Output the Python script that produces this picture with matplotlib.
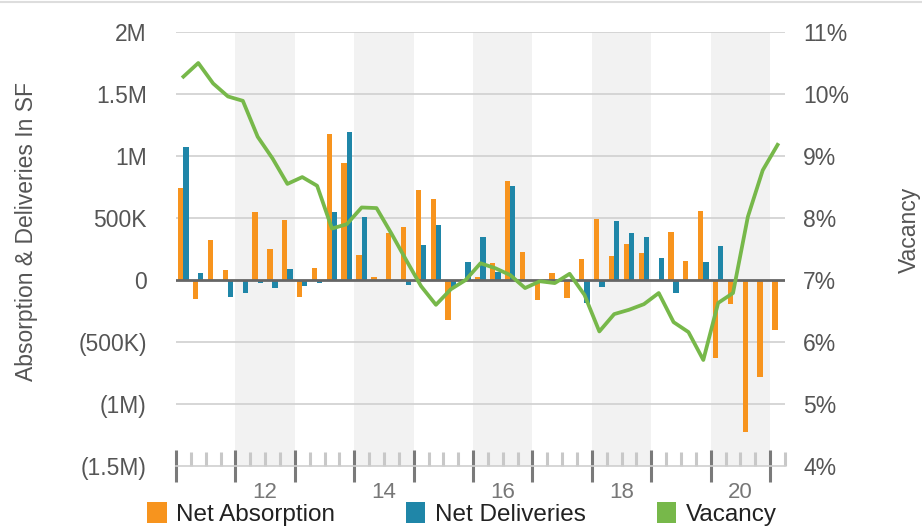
import numpy as np
import matplotlib
matplotlib.use("Agg")
import matplotlib.pyplot as plt
from matplotlib.patches import Patch
from matplotlib.lines import Line2D

plt.rcParams['font.family'] = ['Liberation Sans', 'DejaVu Sans']

# quarterly data, 2011 Q1 .. 2021 Q1
absorption = [740, -156, 322, 81,
              -10, 551, 247, 484,
              -135, 94, 1175, 941,
              202, 27, 376, 425,
              726, 653, -323, 5,
              25, 140, 798, 228,
              -161, 54, -148, 169,
              492, 194, 290, 220,
              -5, 390, 156, 559,
              -632, -190, -1223, -780,
              -403]
deliveries = [1075, 54, 0, -135,
              -107, -27, -67, 86,
              -46, -21, 551, 1196,
              505, 0, 0, -40,
              282, 443, -55, 148,
              349, 65, 758, 0,
              0, 0, 0, -182,
              -56, 476, 376, 344,
              175, -102, 0, 148,
              274, 0, 0, 0,
              0]
vacancy = [10.28, 10.50, 10.17, 9.96,
           9.89, 9.31, 8.96, 8.55,
           8.66, 8.52, 7.83, 7.90,
           8.17, 8.16, 7.75, 7.32,
           6.90, 6.60, 6.85, 7.00,
           7.27, 7.19, 7.08, 6.87,
           6.98, 6.95, 7.10, 6.76,
           6.17, 6.45, 6.52, 6.61,
           6.79, 6.32, 6.16, 5.71,
           6.63, 6.79, 8.02, 8.77,
           9.18]
years = list(range(2011, 2021))
year_labels = ['12', '14', '16', '18', '20']
left_ticks = [-1.5e6, -1e6, -5e5, 0, 5e5, 1e6, 1.5e6, 2e6]
left_labels = ['(1.5M)', '(1M)', '(500K)', '0', '500K', '1M', '1.5M', '2M']
right_ticks = [4, 5, 6, 7, 8, 9, 10, 11]

orange = '#f7941e'
blue = '#1f86a8'
green = '#77b84a'
txt = '#555555'

absorption = np.array(absorption) * 1000
deliveries = np.array(deliveries) * 1000
q = np.arange(len(absorption))

fig = plt.figure(figsize=(9.22, 5.31), dpi=100)
ax = fig.add_axes([176/922, 65/531, 609/922, 434/531])
ax.set_xlim(0, 41)
ax.set_ylim(-1.5e6, 2e6)

# shaded even years
for i, y in enumerate(years):
    if y % 2 == 0:
        ax.axvspan(i*4, i*4+4, color='#f2f2f2', zorder=0, lw=0)

for v in left_ticks[1:]:
    if v == 0:
        continue
    ax.axhline(v, color='#d0d0d0', lw=1.2, zorder=1)

ax.bar(q + 0.32, absorption, width=0.36, color=orange, zorder=3)
ax.bar(q + 0.67, deliveries, width=0.36, color=blue, zorder=3)
ax.axhline(0, color='#666666', lw=2, zorder=4)

for s in ['top', 'left', 'right']:
    ax.spines[s].set_visible(False)
ax.spines['bottom'].set_color('#cfcfcf')
ax.spines['bottom'].set_linewidth(1.2)

ax.set_xticks(np.arange(0, 41, 4))
ax.set_xticks(np.arange(0, 42, 1), minor=True)
ax.tick_params(axis='x', which='major', direction='inout', length=23, width=2.2,
               color='#7a7a7a', labelbottom=False)
ax.tick_params(axis='x', which='minor', direction='in', length=10, width=2.2,
               color='#c8c8c8')
for i, lab in enumerate(year_labels):
    ax.text(6 + i*8, -0.06, lab, transform=ax.get_xaxis_transform(),
            ha='center', va='center', fontsize=16, color='#777777')

ax.set_yticks(left_ticks)
ax.set_yticklabels(left_labels)
ax.tick_params(axis='y', length=0, pad=21, labelsize=16.5, labelcolor=txt)
ax.set_ylabel('Absorption & Deliveries In SF', fontsize=16.5, color=txt)
ax.yaxis.set_label_coords(-0.226, 0.54)

ax2 = ax.twinx()
ax2.set_ylim(4, 11)
ax2.plot(q + 0.5, vacancy, color=green, lw=2.7, zorder=5)
ax2.set_yticks(right_ticks)
ax2.set_yticklabels([f'{v}%' for v in right_ticks])
ax2.tick_params(axis='y', length=0, pad=13, labelsize=16.5, labelcolor=txt)
ax2.set_ylabel('Vacancy', fontsize=16.5, color=txt)
ax2.yaxis.set_label_coords(1.186, 0.545)
for s in ['top', 'left', 'right', 'bottom']:
    ax2.spines[s].set_visible(False)

handles = [Patch(facecolor=orange, label='Net Absorption'),
           Patch(facecolor=blue, label='Net Deliveries'),
           Patch(facecolor=green, label='Vacancy')]
fig.legend(handles=handles, loc='center', bbox_to_anchor=(462/922, 1 - 514/531),
           ncol=3, frameon=False, fontsize=17.5, handlelength=0.8, handleheight=0.95,
           handletextpad=0.4, columnspacing=2.9, labelcolor='#222222')

fig.add_artist(Line2D([0, 1], [0.997, 0.997], color='#dddddd', lw=1.5))

fig.savefig('out.png', dpi=100)
